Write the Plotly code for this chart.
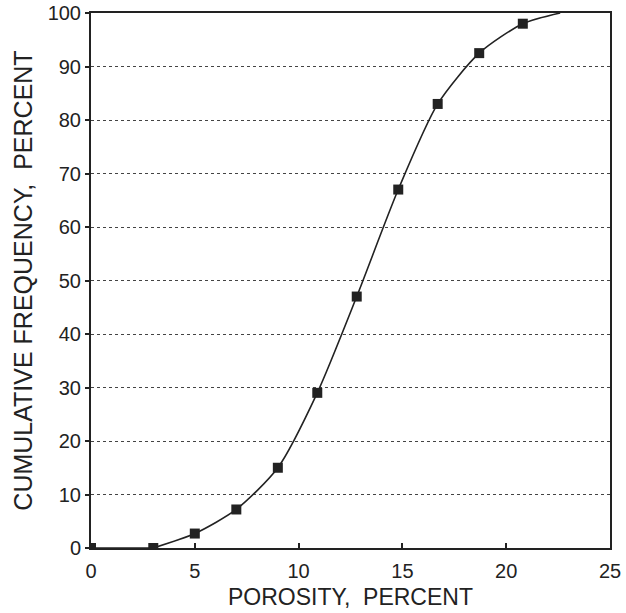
import plotly.graph_objects as go

# porosity (percent) and cumulative frequency (percent)
porosity = [0, 3, 5, 7, 9, 10.9, 12.8, 14.8, 16.7, 18.7, 20.8]
cum_freq = [0, 0, 2.7, 7.2, 15, 29, 47, 67, 83, 92.5, 98]
# the drawn curve runs on past the last point up to 100
curve_end_x = [22.6]
curve_end_y = [100]

ink = '#222222'
font = 'Liberation Sans, Arial, sans-serif'

fig = go.Figure()
# flat start along the axis, then the smooth curve
fig.add_trace(go.Scatter(
    x=porosity[:2], y=cum_freq[:2],
    mode='lines', line=dict(color=ink, width=1.6),
    hoverinfo='skip',
))
fig.add_trace(go.Scatter(
    x=porosity[1:] + curve_end_x,
    y=cum_freq[1:] + curve_end_y,
    mode='lines',
    line=dict(color=ink, width=1.6, shape='spline', smoothing=0.7),
    hoverinfo='skip',
))
fig.add_trace(go.Scatter(
    x=porosity, y=cum_freq,
    mode='markers',
    marker=dict(symbol='square', size=10, color=ink),
))

fig.update_layout(
    width=626, height=613,
    margin=dict(l=91, r=16, t=13, b=65),
    paper_bgcolor='white',
    plot_bgcolor='white',
    showlegend=False,
    font=dict(family=font, color=ink, size=20),
)
fig.update_xaxes(
    range=[0, 25], tickvals=[0, 5, 10, 15, 20, 25],
    showgrid=False, zeroline=False, automargin=False,
    showline=True, linecolor=ink, linewidth=2, mirror=True,
    ticks='inside', ticklen=5, tickcolor=ink, tickwidth=1.5,
    ticklabelstandoff=4, ticklabeloverflow='allow',
    title=dict(text='POROSITY,  PERCENT', standoff=8, font=dict(size=23)),
)
fig.update_yaxes(
    range=[0, 100], tickvals=list(range(0, 101, 10)),
    showgrid=True, gridcolor='#444444', griddash='dot', gridwidth=1.2,
    zeroline=False, automargin=False,
    showline=True, linecolor=ink, linewidth=2, mirror=True,
    ticks='outside', ticklen=4, tickcolor=ink, tickwidth=1.5,
    ticklabeloverflow='allow',
    title=dict(text='CUMULATIVE FREQUENCY,  PERCENT', standoff=8, font=dict(size=25)),
)

# drop the page's default body margin so the figure sits at the window corner
fig.write_html(
    'out.html',
    config={'displayModeBar': False},
    post_script="document.body.style.margin='0';",
)
